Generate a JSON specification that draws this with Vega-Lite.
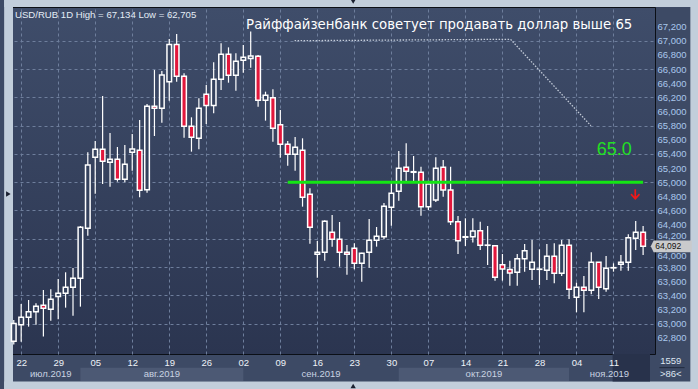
{
  "$schema": "https://vega.github.io/schema/vega-lite/v6.json",
  "width": 647,
  "height": 347,
  "autosize": {"type": "none"},
  "padding": {"left": 8, "top": 7, "right": 43, "bottom": 35},
  "background": "#3d4a65",
  "resolve": {"axis": {"x": "independent", "y": "independent"}},
  "config": {
    "view": {
      "fill": {"gradient": "linear", "x1": 0, "y1": 0, "x2": 0, "y2": 1,
        "stops": [{"offset": 0, "color": "#3f4d6a"}, {"offset": 1, "color": "#2b3550"}]},
      "stroke": "#0b0f16",
      "strokeWidth": 1
    },
    "axis": {"domain": false, "ticks": false, "tickSize": 0, "labelFont": "Liberation Sans", "labelFontSize": 9.5, "labelOverlap": false, "labelBound": false, "labelFlush": false, "gridColor": "#6e7e9c", "gridDash": [3, 3], "gridWidth": 1, "title": null}
  },
  "datasets": {
    "candles": [
      {"n": -1, "date": "2019-07-19", "open": 62750, "high": 63050, "low": 62705, "close": 63000},
      {"n": 0, "date": "2019-07-22", "open": 62984, "high": 63276, "low": 62744, "close": 63088},
      {"n": 1, "date": "2019-07-23", "open": 63088, "high": 63333, "low": 62956, "close": 63168},
      {"n": 2, "date": "2019-07-24", "open": 63168, "high": 63286, "low": 62984, "close": 63244},
      {"n": 3, "date": "2019-07-25", "open": 63258, "high": 63475, "low": 62815, "close": 63215},
      {"n": 4, "date": "2019-07-26", "open": 63201, "high": 63484, "low": 63041, "close": 63343},
      {"n": 5, "date": "2019-07-29", "open": 63381, "high": 63630, "low": 63060, "close": 63428},
      {"n": 6, "date": "2019-07-30", "open": 63428, "high": 63725, "low": 63225, "close": 63513},
      {"n": 7, "date": "2019-07-31", "open": 63513, "high": 63786, "low": 63112, "close": 63640},
      {"n": 8, "date": "2019-08-01", "open": 63640, "high": 64380, "low": 63239, "close": 64361},
      {"n": 9, "date": "2019-08-02", "open": 64347, "high": 65423, "low": 64243, "close": 65243},
      {"n": 10, "date": "2019-08-05", "open": 65352, "high": 65583, "low": 64838, "close": 65465},
      {"n": 11, "date": "2019-08-06", "open": 65465, "high": 66220, "low": 64975, "close": 65295},
      {"n": 12, "date": "2019-08-07", "open": 65281, "high": 65696, "low": 64937, "close": 65324},
      {"n": 13, "date": "2019-08-08", "open": 65324, "high": 65498, "low": 65008, "close": 65041},
      {"n": 14, "date": "2019-08-09", "open": 65041, "high": 65526, "low": 64998, "close": 65253},
      {"n": 15, "date": "2019-08-12", "open": 65423, "high": 65682, "low": 65163, "close": 65470},
      {"n": 16, "date": "2019-08-13", "open": 65451, "high": 65880, "low": 64786, "close": 64885},
      {"n": 17, "date": "2019-08-14", "open": 64894, "high": 66106, "low": 64852, "close": 66073},
      {"n": 18, "date": "2019-08-15", "open": 66073, "high": 66587, "low": 65654, "close": 66045},
      {"n": 19, "date": "2019-08-16", "open": 66045, "high": 66573, "low": 65842, "close": 66517},
      {"n": 20, "date": "2019-08-19", "open": 66422, "high": 67026, "low": 66153, "close": 66950},
      {"n": 21, "date": "2019-08-20", "open": 66950, "high": 67097, "low": 66422, "close": 66498},
      {"n": 22, "date": "2019-08-21", "open": 66498, "high": 66540, "low": 65630, "close": 65790},
      {"n": 23, "date": "2019-08-22", "open": 65790, "high": 65918, "low": 65432, "close": 65635},
      {"n": 24, "date": "2019-08-23", "open": 65621, "high": 66187, "low": 65465, "close": 66045},
      {"n": 25, "date": "2019-08-26", "open": 66243, "high": 66375, "low": 65823, "close": 66087},
      {"n": 26, "date": "2019-08-27", "open": 66087, "high": 66696, "low": 65974, "close": 66455},
      {"n": 27, "date": "2019-08-28", "open": 66455, "high": 66965, "low": 66304, "close": 66809},
      {"n": 28, "date": "2019-08-29", "open": 66809, "high": 66908, "low": 66408, "close": 66512},
      {"n": 29, "date": "2019-08-30", "open": 66512, "high": 66823, "low": 66295, "close": 66710},
      {"n": 30, "date": "2019-09-02", "open": 66724, "high": 66941, "low": 66550, "close": 66767},
      {"n": 31, "date": "2019-09-03", "open": 66752, "high": 67134, "low": 66620, "close": 66785},
      {"n": 32, "date": "2019-09-04", "open": 66781, "high": 66800, "low": 66069, "close": 66158},
      {"n": 33, "date": "2019-09-05", "open": 66158, "high": 66281, "low": 65871, "close": 66229},
      {"n": 34, "date": "2019-09-06", "open": 66196, "high": 66314, "low": 65573, "close": 65762},
      {"n": 35, "date": "2019-09-09", "open": 65814, "high": 66021, "low": 65347, "close": 65536},
      {"n": 36, "date": "2019-09-10", "open": 65536, "high": 65583, "low": 65234, "close": 65394},
      {"n": 37, "date": "2019-09-11", "open": 65394, "high": 65639, "low": 65163, "close": 65493},
      {"n": 38, "date": "2019-09-12", "open": 65451, "high": 65621, "low": 64654, "close": 64786},
      {"n": 39, "date": "2019-09-13", "open": 64828, "high": 64913, "low": 64130, "close": 64361},
      {"n": 40, "date": "2019-09-16", "open": 63979, "high": 64168, "low": 63649, "close": 64008},
      {"n": 41, "date": "2019-09-17", "open": 64008, "high": 64460, "low": 63890, "close": 64446},
      {"n": 42, "date": "2019-09-18", "open": 64291, "high": 64536, "low": 64088, "close": 64192},
      {"n": 43, "date": "2019-09-19", "open": 64192, "high": 64437, "low": 63805, "close": 64008},
      {"n": 44, "date": "2019-09-20", "open": 64008, "high": 64111, "low": 63692, "close": 63979},
      {"n": 45, "date": "2019-09-23", "open": 64064, "high": 64135, "low": 63767, "close": 63852},
      {"n": 46, "date": "2019-09-24", "open": 63852, "high": 64003, "low": 63593, "close": 63993},
      {"n": 47, "date": "2019-09-25", "open": 64008, "high": 64479, "low": 63791, "close": 64177},
      {"n": 48, "date": "2019-09-26", "open": 64177, "high": 64366, "low": 64088, "close": 64234},
      {"n": 49, "date": "2019-09-27", "open": 64229, "high": 64706, "low": 64192, "close": 64658},
      {"n": 50, "date": "2019-09-30", "open": 64644, "high": 64984, "low": 64385, "close": 64842},
      {"n": 51, "date": "2019-10-01", "open": 64871, "high": 65441, "low": 64739, "close": 65196},
      {"n": 52, "date": "2019-10-02", "open": 65210, "high": 65550, "low": 65008, "close": 65154},
      {"n": 53, "date": "2019-10-03", "open": 65140, "high": 65371, "low": 65008, "close": 65149},
      {"n": 54, "date": "2019-10-04", "open": 65140, "high": 65220, "low": 64526, "close": 64654},
      {"n": 55, "date": "2019-10-07", "open": 64654, "high": 65020, "low": 64607, "close": 64974},
      {"n": 56, "date": "2019-10-08", "open": 64748, "high": 65352, "low": 64720, "close": 65196},
      {"n": 57, "date": "2019-10-09", "open": 65210, "high": 65314, "low": 64795, "close": 64890},
      {"n": 58, "date": "2019-10-10", "open": 64890, "high": 65220, "low": 64395, "close": 64442},
      {"n": 59, "date": "2019-10-11", "open": 64442, "high": 64522, "low": 63984, "close": 64173},
      {"n": 60, "date": "2019-10-14", "open": 64220, "high": 64489, "low": 64097, "close": 64229},
      {"n": 61, "date": "2019-10-15", "open": 64229, "high": 64489, "low": 64145, "close": 64310},
      {"n": 62, "date": "2019-10-16", "open": 64314, "high": 64442, "low": 64041, "close": 64107},
      {"n": 63, "date": "2019-10-17", "open": 64107, "high": 64380, "low": 63829, "close": 64110},
      {"n": 64, "date": "2019-10-18", "open": 64102, "high": 64110, "low": 63607, "close": 63654},
      {"n": 65, "date": "2019-10-21", "open": 63833, "high": 63984, "low": 63607, "close": 63772},
      {"n": 66, "date": "2019-10-22", "open": 63763, "high": 63890, "low": 63536, "close": 63715},
      {"n": 67, "date": "2019-10-23", "open": 63725, "high": 63984, "low": 63536, "close": 63918},
      {"n": 68, "date": "2019-10-24", "open": 63918, "high": 64126, "low": 63734, "close": 64031},
      {"n": 69, "date": "2019-10-25", "open": 63767, "high": 64182, "low": 63616, "close": 63866},
      {"n": 70, "date": "2019-10-28", "open": 63767, "high": 64050, "low": 63546, "close": 63770},
      {"n": 71, "date": "2019-10-29", "open": 63753, "high": 64126, "low": 63616, "close": 63951},
      {"n": 72, "date": "2019-10-30", "open": 63951, "high": 64135, "low": 63569, "close": 63711},
      {"n": 73, "date": "2019-10-31", "open": 63711, "high": 64182, "low": 63673, "close": 64107},
      {"n": 74, "date": "2019-11-01", "open": 64107, "high": 64192, "low": 63348, "close": 63484},
      {"n": 75, "date": "2019-11-04", "open": 63371, "high": 63579, "low": 63159, "close": 63513},
      {"n": 76, "date": "2019-11-05", "open": 63513, "high": 63673, "low": 63159, "close": 63470},
      {"n": 77, "date": "2019-11-06", "open": 63470, "high": 64008, "low": 63414, "close": 63866},
      {"n": 78, "date": "2019-11-07", "open": 63866, "high": 63870, "low": 63348, "close": 63513},
      {"n": 79, "date": "2019-11-08", "open": 63494, "high": 63956, "low": 63451, "close": 63781},
      {"n": 80, "date": "2019-11-11", "open": 63787, "high": 63852, "low": 63734, "close": 63791},
      {"n": 81, "date": "2019-11-12", "open": 63838, "high": 63970, "low": 63748, "close": 63866},
      {"n": 82, "date": "2019-11-13", "open": 63866, "high": 64262, "low": 63748, "close": 64215},
      {"n": 83, "date": "2019-11-14", "open": 64206, "high": 64451, "low": 64041, "close": 64291},
      {"n": 84, "date": "2019-11-15", "open": 64291, "high": 64380, "low": 63970, "close": 64092}
    ],
    "months": [
      {"month": "июл.2019", "start": 0, "end": 8, "mid": 4, "shade": false},
      {"month": "авг.2019", "start": 8, "end": 30, "mid": 19, "shade": true},
      {"month": "сен.2019", "start": 30, "end": 51, "mid": 40.5, "shade": false},
      {"month": "окт.2019", "start": 51, "end": 74, "mid": 62.5, "shade": true},
      {"month": "ноя.2019", "start": 74, "end": 84.93, "mid": 79.45, "shade": false}
    ],
    "guide": [
      {"n": 36.93, "price": 67002},
      {"n": 66.09, "price": 67022},
      {"n": 76.95, "price": 65799}
    ]
  },
  "layer": [
    {
      "data": {"values": [{"side": "left", "x1": -2.3, "x2": -1.104, "y1": 62000, "y2": 67650}, {"side": "top", "x1": -2.3, "x2": 92.6, "y1": 67479, "y2": 67650}, {"side": "right", "x1": 90.38, "x2": 92.6, "y1": 62000, "y2": 67650}, {"side": "bottom", "x1": -2.3, "x2": 92.6, "y1": 62000, "y2": 62180}]},
      "mark": {"type": "rect", "color": "#c2cedb"},
      "encoding": {
        "x": {"field": "x1", "type": "quantitative", "axis": null, "scale": {"domain": [-1.104, 84.93], "nice": false, "zero": false}},
        "x2": {"field": "x2"},
        "y": {"field": "y1", "type": "quantitative", "axis": null, "scale": {"domain": [62569, 67479], "nice": false, "zero": false}},
        "y2": {"field": "y2"}
      }
    },
    {
      "data": {"name": "months"},
      "transform": [{"filter": "datum.shade"}],
      "mark": {"type": "rect", "color": "#4c5974"},
      "encoding": {
        "x": {"field": "start", "type": "quantitative", "axis": null},
        "x2": {"field": "end"},
        "y": {"datum": 62376, "type": "quantitative", "axis": null},
        "y2": {"datum": 62188}
      }
    },
    {
      "data": {"values": [{}]},
      "mark": {"type": "rect", "color": "#28324b"},
      "encoding": {
        "x": {"datum": 79.88, "type": "quantitative", "axis": null},
        "x2": {"datum": 84.93},
        "y": {"datum": 62569, "type": "quantitative", "axis": null},
        "y2": {"datum": 62180}
      }
    },
    {
      "data": {"name": "months"},
      "mark": {"type": "text", "font": "Liberation Sans", "fontSize": 9.5, "color": "#c9d3e2", "baseline": "middle", "align": "center"},
      "encoding": {
        "x": {"field": "mid", "type": "quantitative", "axis": null},
        "y": {"datum": 62286, "type": "quantitative", "axis": null},
        "text": {"field": "month"}
      }
    },
    {
      "data": {"values": [{"line": "1559", "p": 62470}, {"line": ">86<", "p": 62286}]},
      "mark": {"type": "text", "font": "Liberation Sans", "fontSize": 9.5, "color": "#dde6f2", "baseline": "middle", "align": "center"},
      "encoding": {
        "x": {"datum": 87.73, "type": "quantitative", "axis": null},
        "y": {"field": "p", "type": "quantitative", "axis": null},
        "text": {"field": "line"}
      }
    },
    {
      "data": {"values": [{}]},
      "mark": {"type": "rule", "color": "#222b3d", "strokeWidth": 1},
      "encoding": {
        "x": {"datum": 86.2, "type": "quantitative", "axis": null},
        "x2": {"datum": 89.6},
        "y": {"datum": 62376, "type": "quantitative", "axis": null}
      }
    },
    {
      "data": {"name": "candles"},
      "mark": {"type": "rule", "color": "#ffffff", "strokeWidth": 1.2},
      "encoding": {
        "x": {"field": "n", "type": "quantitative",
          "axis": {"orient": "top", "values": [0, 5, 10, 15, 20, 25, 30, 35, 40, 45, 50, 55, 60, 65, 70, 75, 80], "grid": true, "labels": false, "zindex": 0}},
        "y": {"field": "low", "type": "quantitative",
          "axis": {"orient": "left", "labels": false, "zindex": 0,
            "values": [63000, 63400, 63800, 64200, 64600, 65000, 65400, 65800, 66200, 66600, 67000],
            "grid": true}},
        "y2": {"field": "high"}
      }
    },
    {
      "data": {"name": "candles"},
      "mark": {"type": "bar", "width": 4.6, "stroke": "#ffffff", "strokeWidth": 1.5},
      "encoding": {
        "x": {"field": "n", "type": "quantitative",
          "axis": {"values": [0, 5, 10, 15, 20, 25, 30, 35, 40, 45, 50, 55, 60, 65, 70, 75, 80],
            "labelExpr": "['22','29','05','12','19','26','02','09','16','23','30','07','14','21','28','04','11'][round(datum.value/5)]",
            "grid": false, "labelColor": "#eef2f8", "labelPadding": 8, "labelBaseline": "middle", "orient": "bottom", "zindex": 1}},
        "y": {"field": "open", "type": "quantitative",
          "axis": {"orient": "right", "format": ",.0f", "labelColor": "#aac7ec", "labelPadding": 2, "labelBaseline": "middle", "zindex": 0,
            "labelOffset": {"condition": [{"test": "datum.value === 64200", "value": -3}, {"test": "datum.value === 64000", "value": 3}], "value": 0},
            "values": [62800, 63000, 63200, 63400, 63600, 63800, 64000, 64200, 64400, 64600, 64800, 65000, 65200, 65400, 65600, 65800, 66000, 66200, 66400, 66600, 66800, 67000, 67200],
            "grid": false}},
        "y2": {"field": "close"},
        "fill": {"condition": {"test": "datum.close < datum.open", "value": "#e2173c"}, "value": "#35425e"}
      }
    },
    {
      "data": {"values": [{"level": 65000}]},
      "mark": {"type": "rule", "color": "#14e614", "strokeWidth": 3},
      "encoding": {
        "x": {"datum": 36, "type": "quantitative", "axis": null},
        "x2": {"datum": 84},
        "y": {"field": "level", "type": "quantitative", "axis": null}
      }
    },
    {
      "data": {"values": [{}]},
      "mark": {"type": "text", "text": "65.0", "font": "Liberation Sans", "fontSize": 18, "color": "#22e022", "align": "center", "baseline": "alphabetic"},
      "encoding": {
        "x": {"datum": 80.1, "type": "quantitative", "axis": null},
        "y": {"datum": 65385, "type": "quantitative", "axis": null}
      }
    },
    {
      "data": {"values": [{}]},
      "mark": {"type": "point", "filled": true, "color": "#f01818", "opacity": 1, "size": 130,
        "shape": "M-0.15,-1L0.15,-1L0.15,0.25L0.65,-0.25L0.85,-0.05L0,0.9L-0.85,-0.05L-0.65,-0.25L-0.15,0.25Z"},
      "encoding": {
        "x": {"datum": 82.94, "type": "quantitative", "axis": null},
        "y": {"datum": 64819, "type": "quantitative", "axis": null}
      }
    },
    {
      "data": {"name": "guide"},
      "mark": {"type": "line", "color": "#c3cbd8", "strokeWidth": 1.3, "strokeDash": [1.5, 1.5]},
      "encoding": {
        "x": {"field": "n", "type": "quantitative", "axis": null},
        "y": {"field": "price", "type": "quantitative", "axis": null}
      }
    },
    {
      "data": {"values": [{}]},
      "mark": {"type": "text", "text": "Райффайзенбанк советует продавать доллар выше 65", "font": "DejaVu Sans", "fontSize": 13.3, "color": "#ffffff", "align": "center", "baseline": "alphabetic"},
      "encoding": {
        "x": {"datum": 56.46, "type": "quantitative", "axis": null},
        "y": {"datum": 67163, "type": "quantitative", "axis": null}
      }
    },
    {
      "data": {"values": [{}]},
      "mark": {"type": "text", "text": "USD/RUB 1D High = 67,134 Low = 62,705", "font": "Liberation Sans", "fontSize": 9.6, "color": "#e4ecf6", "align": "left", "baseline": "middle"},
      "encoding": {
        "x": {"datum": -0.84, "type": "quantitative", "axis": null},
        "y": {"datum": 67365, "type": "quantitative", "axis": null}
      }
    },
    {
      "data": {"values": [{"last": 64092}]},
      "mark": {"type": "point", "filled": true, "color": "#c9cacc", "opacity": 1, "size": 1681,
        "shape": "M-1,0L-0.86,-0.285L1,-0.285L1,0.285L-0.86,0.285Z"},
      "encoding": {
        "x": {"datum": 87.8, "type": "quantitative", "axis": null},
        "y": {"field": "last", "type": "quantitative", "axis": null}
      }
    },
    {
      "data": {"values": [{"last": 64092}]},
      "mark": {"type": "text", "font": "Liberation Sans", "fontSize": 8.5, "color": "#111111", "align": "center", "baseline": "middle"},
      "encoding": {
        "x": {"datum": 87.4, "type": "quantitative", "axis": null},
        "y": {"field": "last", "type": "quantitative", "axis": null},
        "text": {"field": "last", "format": ",.0f"}
      }
    },
    {
      "data": {"values": [{"s": "triangle-right", "n": -1.73, "p": 64833}, {"s": "triangle-down", "n": 44.84, "p": 67556}, {"s": "triangle-up", "n": 44.84, "p": 62117}]},
      "mark": {"type": "point", "filled": true, "color": "#1a2030", "opacity": 1, "size": 28},
      "encoding": {
        "x": {"field": "n", "type": "quantitative", "axis": null},
        "y": {"field": "p", "type": "quantitative", "axis": null},
        "shape": {"field": "s", "type": "nominal", "scale": null}
      }
    }
  ]
}
